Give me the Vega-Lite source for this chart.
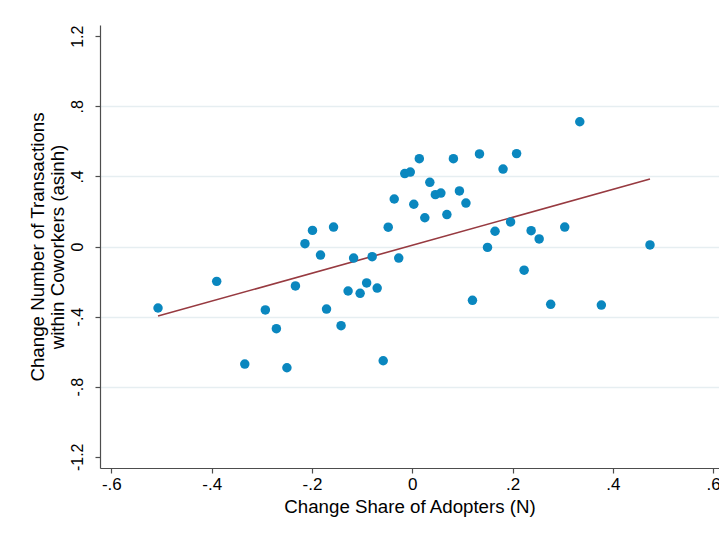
{
  "$schema": "https://vega.github.io/schema/vega-lite/v6.json",
  "width": 619,
  "height": 443,
  "autosize": {"type": "none"},
  "padding": {"left": 100, "top": 25, "right": 0, "bottom": 74},
  "background": "white",
  "config": {"view": {"stroke": null}, "font": "Liberation Sans"},
  "datasets": {
    "points": [
      {"x": -0.507, "y": -0.351}, {"x": -0.390, "y": -0.199}, {"x": -0.334, "y": -0.671},
      {"x": -0.293, "y": -0.362}, {"x": -0.271, "y": -0.469}, {"x": -0.250, "y": -0.692},
      {"x": -0.233, "y": -0.225}, {"x": -0.214, "y": 0.016}, {"x": -0.199, "y": 0.092},
      {"x": -0.183, "y": -0.049}, {"x": -0.171, "y": -0.357}, {"x": -0.157, "y": 0.111},
      {"x": -0.142, "y": -0.452}, {"x": -0.128, "y": -0.254}, {"x": -0.117, "y": -0.066},
      {"x": -0.104, "y": -0.267}, {"x": -0.091, "y": -0.208}, {"x": -0.080, "y": -0.058},
      {"x": -0.070, "y": -0.237}, {"x": -0.058, "y": -0.652}, {"x": -0.048, "y": 0.110},
      {"x": -0.036, "y": 0.271}, {"x": -0.027, "y": -0.066}, {"x": -0.015, "y": 0.416},
      {"x": -0.004, "y": 0.425}, {"x": 0.003, "y": 0.241}, {"x": 0.014, "y": 0.501},
      {"x": 0.025, "y": 0.164}, {"x": 0.035, "y": 0.366}, {"x": 0.046, "y": 0.296},
      {"x": 0.057, "y": 0.305}, {"x": 0.069, "y": 0.182}, {"x": 0.082, "y": 0.501},
      {"x": 0.094, "y": 0.317}, {"x": 0.107, "y": 0.248}, {"x": 0.120, "y": -0.307},
      {"x": 0.134, "y": 0.528}, {"x": 0.150, "y": -0.005}, {"x": 0.165, "y": 0.087},
      {"x": 0.181, "y": 0.442}, {"x": 0.196, "y": 0.140}, {"x": 0.208, "y": 0.530},
      {"x": 0.223, "y": -0.135}, {"x": 0.237, "y": 0.090}, {"x": 0.253, "y": 0.043},
      {"x": 0.276, "y": -0.330}, {"x": 0.304, "y": 0.111}, {"x": 0.334, "y": 0.712},
      {"x": 0.377, "y": -0.334}, {"x": 0.474, "y": 0.009}
    ],
    "fit": [
      {"x": -0.507, "y": -0.397},
      {"x": 0.474, "y": 0.385}
    ]
  },
  "encoding": {
    "x": {
      "field": "x",
      "type": "quantitative",
      "scale": {"domain": [-0.6227, 0.6116], "nice": false, "zero": false},
      "axis": {
        "title": "Change Share of Adopters (N)",
        "values": [-0.6, -0.4, -0.2, 0, 0.2, 0.4, 0.6],
        "labelExpr": "datum.value == 0 ? '0' : (datum.value < 0 ? '-' : '') + (abs(datum.value) >= 1 ? format(abs(datum.value), '.1f') : replace(format(abs(datum.value), '.1f'), '0.', '.'))",
        "grid": false,
        "domainColor": "#4d4d4d",
        "domainWidth": 1.2,
        "tickColor": "#4d4d4d",
        "tickSize": 5,
        "tickWidth": 1.2,
        "labelFontSize": 17,
        "labelColor": "#000000",
        "labelPadding": 3,
        "labelFlush": false,
        "labelOverlap": false,
        "labelBound": false,
        "titleFontSize": 18.7,
        "titleFontWeight": "normal",
        "titleColor": "#000000",
        "titlePadding": 5
      }
    },
    "y": {
      "field": "y",
      "type": "quantitative",
      "scale": {"domain": [-1.264, 1.264], "nice": false, "zero": false},
      "axis": {
        "title": ["Change Number of Transactions", "within Coworkers (asinh)"],
        "values": [-1.2, -0.8, -0.4, 0, 0.4, 0.8, 1.2],
        "labelExpr": "datum.value == 0 ? '0' : (datum.value < 0 ? '-' : '') + (abs(datum.value) >= 1 ? format(abs(datum.value), '.1f') : replace(format(abs(datum.value), '.1f'), '0.', '.'))",
        "grid": true,
        "gridColor": {"condition": {"test": "abs(datum.value) > 1", "value": "rgba(0,0,0,0)"}, "value": "#e6eef1"},
        "gridWidth": 1.5,
        "domainColor": "#4d4d4d",
        "domainWidth": 1.2,
        "tickColor": "#4d4d4d",
        "tickSize": 5,
        "tickWidth": 1.2,
        "labelAngle": -90,
        "labelAlign": "center",
        "labelBaseline": "bottom",
        "labelFontSize": 16,
        "labelColor": "#000000",
        "labelPadding": 10,
        "labelOverlap": false,
        "labelFlush": false,
        "titleFontSize": 18.7,
        "titleFontWeight": "normal",
        "titleColor": "#000000",
        "titleLineHeight": 20,
        "titlePadding": 2
      }
    }
  },
  "layer": [
    {
      "data": {"name": "fit"},
      "mark": {"type": "line", "color": "#973a40", "strokeWidth": 1.6}
    },
    {
      "data": {"name": "points"},
      "mark": {"type": "circle", "size": 90, "opacity": 1, "color": "#0a87bf"}
    }
  ]
}
